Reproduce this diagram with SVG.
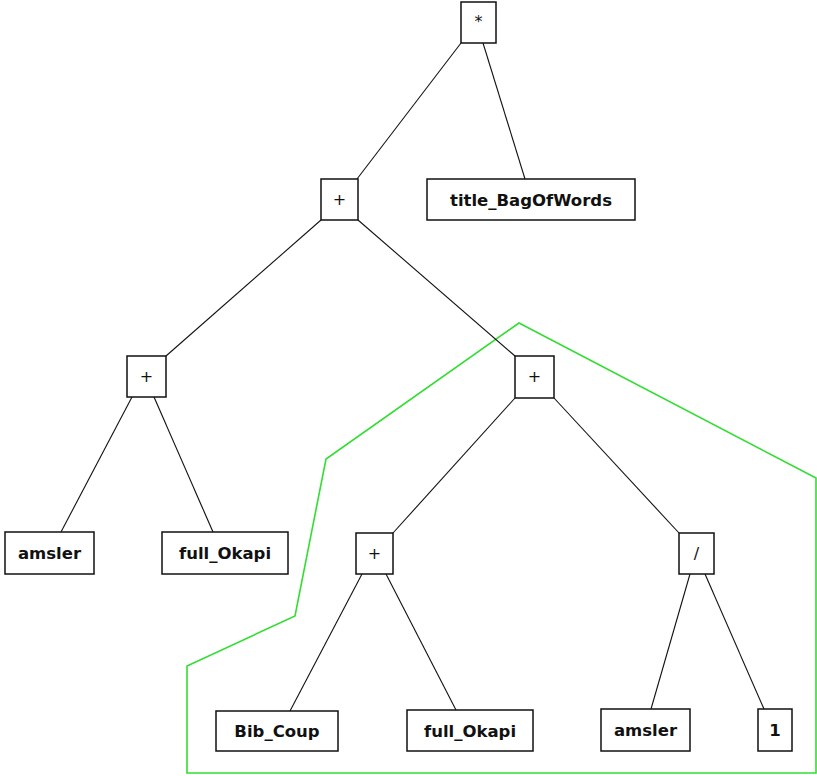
<svg xmlns="http://www.w3.org/2000/svg" width="817" height="776" viewBox="0 0 817 776">
  <style>
    .box { fill: #ffffff; stroke: #111111; stroke-width: 1.5; }
    .lbl { font-family: "DejaVu Sans", "Liberation Sans", sans-serif; font-weight: bold; font-size: 16.5px; fill: #111111; text-anchor: middle; }
    .op { font-family: "DejaVu Sans", "Liberation Sans", sans-serif; font-size: 16px; fill: #111111; text-anchor: middle; }
    .edge { stroke: #111111; stroke-width: 1.1; fill: none; }
    .hull { fill: none; stroke: #33dd33; stroke-width: 1.6; stroke-linejoin: miter; }
  </style>
  <rect width="817" height="776" fill="#ffffff"/>

  <!-- highlighted subtree outline -->
  <polygon class="hull" points="519,323 816,478 816,773 187,773 187,666 295,616 326,459"/>

  <g id="connectors">
    <line class="edge" x1="461" y1="43" x2="357" y2="179"/>
    <line class="edge" x1="483" y1="43" x2="525" y2="179"/>
    <line class="edge" x1="321" y1="220" x2="166" y2="356"/>
    <line class="edge" x1="358" y1="220" x2="515" y2="356"/>
    <line class="edge" x1="132" y1="397" x2="61" y2="532"/>
    <line class="edge" x1="154" y1="397" x2="213" y2="532"/>
    <line class="edge" x1="515" y1="398" x2="393" y2="533"/>
    <line class="edge" x1="554" y1="398" x2="679" y2="533"/>
    <line class="edge" x1="362" y1="574" x2="290" y2="711"/>
    <line class="edge" x1="386" y1="574" x2="456" y2="710"/>
    <line class="edge" x1="690" y1="574" x2="651" y2="709"/>
    <line class="edge" x1="705" y1="574" x2="764" y2="709"/>
  </g>

  <g id="n_mul">
    <rect class="box" x="461" y="2" width="35" height="41"/>
    <text class="op" x="478.5" y="27">*</text>
  </g>
  <g id="n_add1">
    <rect class="box" x="321" y="179" width="37" height="41"/>
    <text class="op" x="339.5" y="205">+</text>
  </g>
  <g id="n_title">
    <rect class="box" x="427" y="179" width="208" height="41"/>
    <text class="lbl" x="531" y="206">title_BagOfWords</text>
  </g>
  <g id="n_add2">
    <rect class="box" x="127" y="356" width="39" height="41"/>
    <text class="op" x="146.5" y="382">+</text>
  </g>
  <g id="n_add3">
    <rect class="box" x="515" y="356" width="39" height="42"/>
    <text class="op" x="534.5" y="382">+</text>
  </g>
  <g id="n_amsler1">
    <rect class="box" x="5" y="532" width="89" height="42"/>
    <text class="lbl" x="49.5" y="559">amsler</text>
  </g>
  <g id="n_okapi1">
    <rect class="box" x="162" y="532" width="126" height="42"/>
    <text class="lbl" x="225" y="559">full_Okapi</text>
  </g>
  <g id="n_add4">
    <rect class="box" x="356" y="533" width="37" height="41"/>
    <text class="op" x="374.5" y="559">+</text>
  </g>
  <g id="n_div">
    <rect class="box" x="679" y="533" width="35" height="41"/>
    <text class="op" x="696.5" y="559">/</text>
  </g>
  <g id="n_bib">
    <rect class="box" x="216" y="711" width="122" height="40"/>
    <text class="lbl" x="277" y="737">Bib_Coup</text>
  </g>
  <g id="n_okapi2">
    <rect class="box" x="407" y="710" width="126" height="41"/>
    <text class="lbl" x="470" y="737">full_Okapi</text>
  </g>
  <g id="n_amsler2">
    <rect class="box" x="601" y="709" width="89" height="42"/>
    <text class="lbl" x="645.5" y="736">amsler</text>
  </g>
  <g id="n_one">
    <rect class="box" x="758" y="709" width="34" height="42"/>
    <text class="lbl" x="775" y="736">1</text>
  </g>
</svg>
